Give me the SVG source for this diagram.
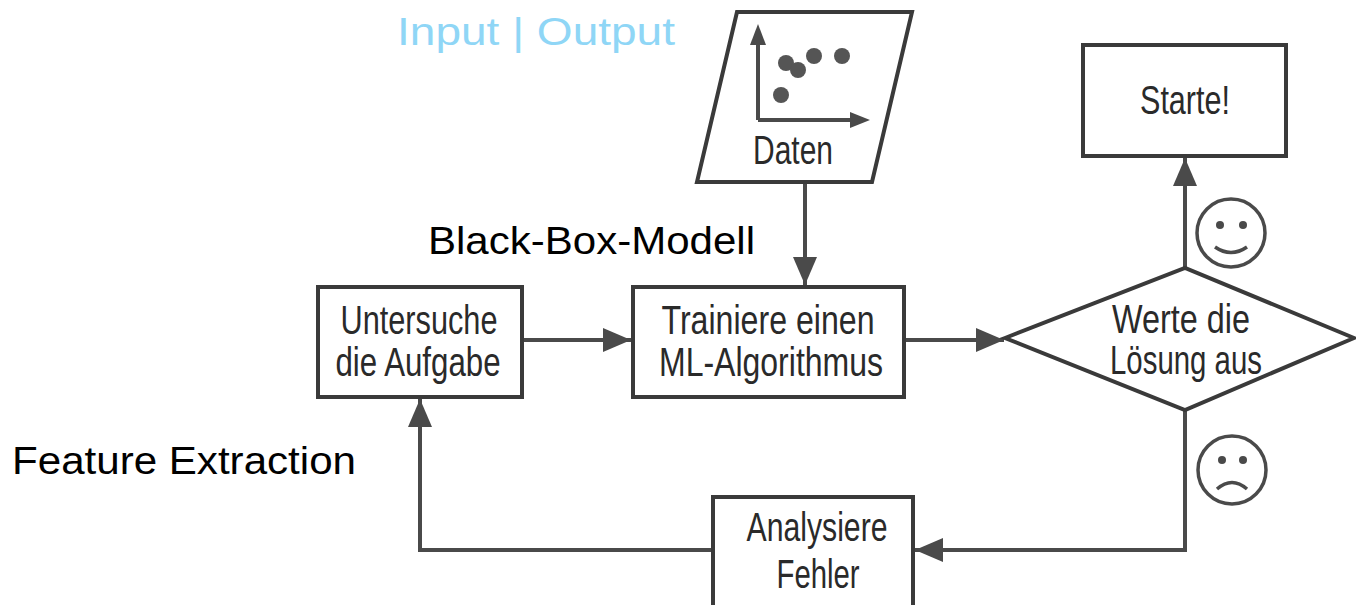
<svg xmlns="http://www.w3.org/2000/svg" width="1356" height="605" viewBox="0 0 1356 605">
<style>
.box{fill:#fff;stroke:#3a3a3a;stroke-width:4}
.ln{fill:none;stroke:#4a4a4a;stroke-width:4}
.t{font-family:"Liberation Sans Narrow","Liberation Sans",Arial,sans-serif;font-size:40px;fill:#2a2a2a;text-anchor:middle}
.lab{font-family:"Liberation Sans",Arial,sans-serif;font-size:38px;fill:#000}
.face{fill:none;stroke:#4a4a4a;stroke-width:3.5}
.eye{fill:#4a4a4a}
.dot{fill:#555}
</style>
<defs>
<marker id="ah" viewBox="0 0 28 24" refX="28" refY="12" markerWidth="28" markerHeight="24" markerUnits="userSpaceOnUse" orient="auto">
<path d="M0,0 L28,12 L0,24 Z" fill="#4a4a4a"/>
</marker>
</defs>
<rect width="1356" height="605" fill="#fff"/>

<text class="lab" x="397" y="45" textLength="278" lengthAdjust="spacingAndGlyphs" style="fill:#8fd6f6">Input | Output</text>
<text class="lab" x="428" y="254" textLength="327" lengthAdjust="spacingAndGlyphs">Black-Box-Modell</text>
<text class="lab" x="12" y="474" textLength="344" lengthAdjust="spacingAndGlyphs">Feature Extraction</text>

<g id="connectors">
<line class="ln" x1="805" y1="184" x2="805" y2="285" marker-end="url(#ah)"/>
<line class="ln" x1="524" y1="340" x2="631" y2="340" marker-end="url(#ah)"/>
<line class="ln" x1="905" y1="340" x2="1004" y2="340" marker-end="url(#ah)"/>
<line class="ln" x1="1185" y1="268" x2="1185" y2="158" marker-end="url(#ah)"/>
<polyline class="ln" points="1185,410 1185,550 915,550" marker-end="url(#ah)"/>
<polyline class="ln" points="712,550 420,550 420,399" marker-end="url(#ah)"/>
</g>

<g id="daten">
<polygon class="box" points="737,12 912,12 872,182 697,182"/>
<line class="ln" x1="758" y1="120" x2="758" y2="45"/>
<path d="M758,24 L750,45 L766,45 Z" fill="#4a4a4a"/>
<line class="ln" x1="758" y1="120" x2="850" y2="120"/>
<path d="M870,120 L850,112 L850,128 Z" fill="#4a4a4a"/>
<circle class="dot" cx="786" cy="63" r="8"/>
<circle class="dot" cx="798" cy="70" r="8"/>
<circle class="dot" cx="814" cy="56" r="8"/>
<circle class="dot" cx="842" cy="56" r="8"/>
<circle class="dot" cx="781" cy="95" r="8"/>
<text class="t" x="793" y="164" textLength="80" lengthAdjust="spacingAndGlyphs">Daten</text>
</g>

<g id="untersuche">
<rect class="box" x="318" y="287" width="204" height="110"/>
<text class="t" x="419" y="334" textLength="157" lengthAdjust="spacingAndGlyphs">Untersuche</text>
<text class="t" x="418" y="376" textLength="165" lengthAdjust="spacingAndGlyphs">die Aufgabe</text>
</g>

<g id="trainiere">
<rect class="box" x="633" y="287" width="271" height="110"/>
<text class="t" x="768" y="334" textLength="213" lengthAdjust="spacingAndGlyphs">Trainiere einen</text>
<text class="t" x="771" y="376" textLength="224" lengthAdjust="spacingAndGlyphs">ML-Algorithmus</text>
</g>

<g id="werte">
<polygon class="box" points="1005,338 1185,268 1354,338 1185,410"/>
<text class="t" x="1181" y="333" textLength="138" lengthAdjust="spacingAndGlyphs">Werte die</text>
<text class="t" x="1186" y="374" textLength="152" lengthAdjust="spacingAndGlyphs">Lösung aus</text>
</g>

<g id="starte">
<rect class="box" x="1083" y="45" width="203" height="111"/>
<text class="t" x="1185" y="114" textLength="90" lengthAdjust="spacingAndGlyphs">Starte!</text>
</g>

<g id="analysiere">
<rect class="box" x="713" y="497" width="200" height="112"/>
<text class="t" x="817" y="541" textLength="141" lengthAdjust="spacingAndGlyphs">Analysiere</text>
<text class="t" x="818" y="588" textLength="83" lengthAdjust="spacingAndGlyphs">Fehler</text>
</g>

<g id="smiley">
<circle class="face" cx="1231" cy="233" r="34"/>
<circle class="eye" cx="1220" cy="225" r="4"/>
<circle class="eye" cx="1243" cy="225" r="4"/>
<path class="face" d="M1215,247 Q1231,258 1247,247"/>
</g>

<g id="frowny">
<circle class="face" cx="1232" cy="470" r="34"/>
<circle class="eye" cx="1222" cy="460" r="4"/>
<circle class="eye" cx="1243" cy="460" r="4"/>
<path class="face" d="M1217,489 Q1232,476 1247,489"/>
</g>
</svg>
